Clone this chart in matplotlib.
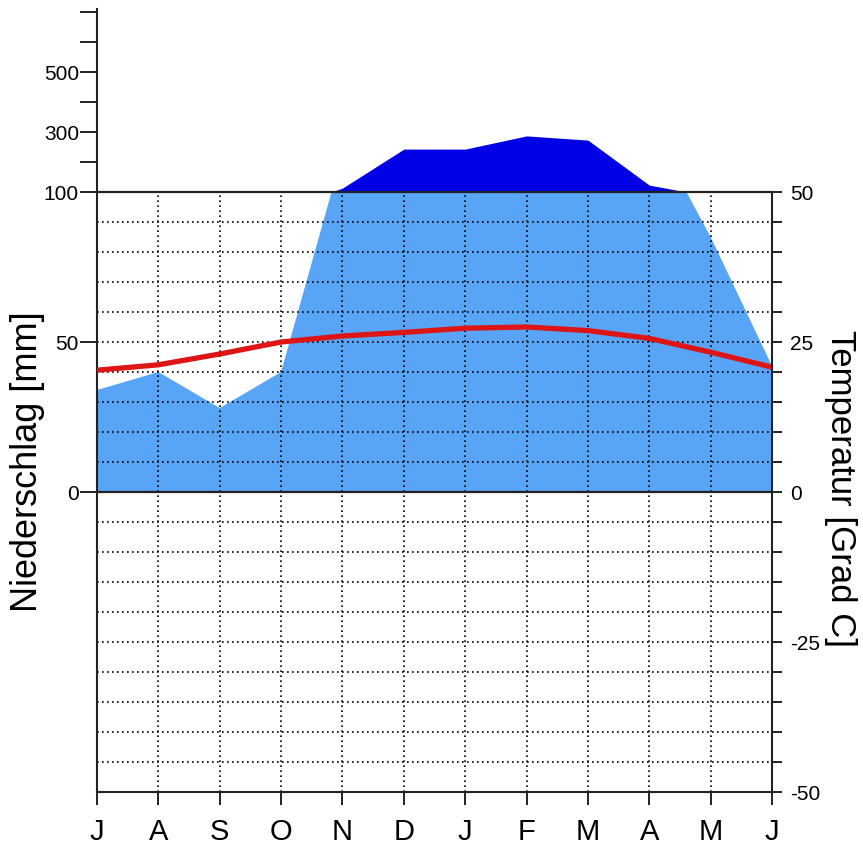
import matplotlib
matplotlib.use('Agg')
import matplotlib.pyplot as plt
import numpy as np
from matplotlib import font_manager
from matplotlib.patches import Rectangle

# ---- data ----
months = ['J', 'A', 'S', 'O', 'N', 'D', 'J', 'F', 'M', 'A', 'M', 'J']
precip_mm = [34, 40, 28, 40, 113, 243, 243, 287, 273, 123, 85, 42]
temp_c = [20.3, 21.2, 23.0, 25.0, 26.0, 26.6, 27.3, 27.5, 26.9, 25.6, 23.3, 20.8]
precip_ticks_mm = [0, 50, 100, 200, 300, 400, 500, 600, 700]
precip_tick_labels = ['0', '50', '100', '', '300', '', '500', '', '']
temp_ticks = list(range(-50, 51, 5))
temp_tick_labels = [str(t) if t % 25 == 0 else '' for t in temp_ticks]

plt.rcParams['font.family'] = ['Liberation Sans', 'DejaVu Sans']
plt.rcParams['axes.unicode_minus'] = False

available = {f.name for f in font_manager.fontManager.ttflist}
narrow = 'Liberation Sans Narrow' if 'Liberation Sans Narrow' in available else None

LIGHT = '#58a4f6'
DARK = '#0000e6'
RED = '#dd1515'
INK = '#222222'


def p2y(p):
    p = np.asarray(p, float)
    return np.where(p <= 100, p / 2.0, 50 + (p - 100) / 20.0)


P = np.asarray(precip_mm, float)
x = np.arange(len(months))

fig = plt.figure(figsize=(8.63, 8.55), dpi=100)
ax = fig.add_axes([97 / 863, (855 - 792) / 855, 675 / 863, 783 / 855])
ax.set_xlim(0, len(months) - 1)
ax.set_ylim(-50, 80.5)

# humid area (up to 100 mm), clipped at the 100 mm line
poly = ax.fill_between(x, 0, P / 2.0, color=LIGHT, lw=0, zorder=1)
clip = Rectangle((0, -50), len(months) - 1, 100, transform=ax.transData)
poly.set_clip_path(clip)
# perhumid area (above 100 mm, compressed scale)
ax.fill_between(x, 50, 50 + (P - 100) / 20.0, where=P >= 100, interpolate=True,
                color=DARK, lw=0, zorder=1)

# dotted grid
dot = (0, (1, 2))
for i in x[1:-1]:
    ax.plot([i, i], [-50, 50], color='k', lw=1.2, ls=dot, zorder=2)
for t in temp_ticks:
    if t in (-50, 0, 50):
        continue
    ax.plot([0, len(months) - 1], [t, t], color='k', lw=1.2, ls=dot, zorder=2)

# solid reference lines
ax.plot([0, len(months) - 1], [50, 50], color=INK, lw=1.6, zorder=4)
ax.plot([0, len(months) - 1], [0, 0], color=INK, lw=1.6, zorder=4)

# temperature curve
ax.plot(x, temp_c, color=RED, lw=3.8, zorder=3, solid_capstyle='butt')

for s in ['top', 'right']:
    ax.spines[s].set_visible(False)
for s in ['left', 'bottom']:
    ax.spines[s].set_color(INK)
    ax.spines[s].set_linewidth(1.5)

ax.set_yticks(p2y(precip_ticks_mm))
ax.set_yticklabels(precip_tick_labels)
ax.tick_params(axis='y', direction='out', length=12, width=1.4, labelsize=15, pad=1, color=INK)

ax.set_xticks(x)
ax.set_xticklabels(months)
ax.tick_params(axis='x', direction='out', length=9.5, width=1.4, pad=9, color=INK)
for lab in ax.get_xticklabels():
    if narrow:
        lab.set_family([narrow, 'Liberation Sans'])
        lab.set_fontsize(24)
    else:
        lab.set_fontsize(21)

ax2 = ax.twinx()
ax2.set_ylim(-50, 80.5)
for s in ['top', 'left', 'bottom']:
    ax2.spines[s].set_visible(False)
ax2.spines['right'].set_bounds(-50, 50)
ax2.spines['right'].set_color(INK)
ax2.spines['right'].set_linewidth(1.5)
ax2.set_yticks(temp_ticks)
ax2.set_yticklabels(temp_tick_labels)
ax2.tick_params(axis='y', direction='out', length=7, width=1.4, labelsize=15, pad=6, color=INK)

fig.text(28 / 863, 1 - 462 / 855, 'Niederschlag [mm]', rotation=90,
         ha='center', va='center', fontsize=26)
fig.text(840 / 863, 1 - 488 / 855, 'Temperatur [Grad C]', rotation=-90,
         ha='center', va='center', fontsize=25)

fig.savefig('out.png', dpi=100, facecolor='white')
